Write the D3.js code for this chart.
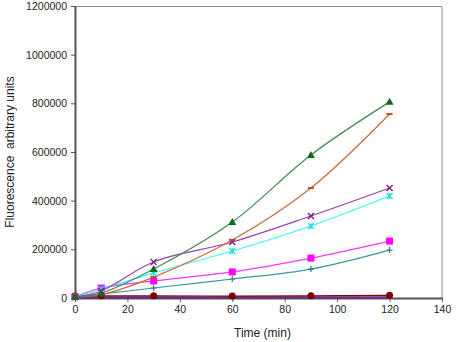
<!DOCTYPE html>
<html>
<head>
<meta charset="utf-8">
<script src="https://cdn.jsdelivr.net/npm/d3@7"></script>
<style>
  body { margin: 0; background: #fff; }
  svg text { font-family: "Liberation Sans", Arial, sans-serif; fill: #222; }
</style>
</head>
<body>
<div id="chart"></div>
<script>
const width = 457;
const height = 342;
const margin = { top: 6, right: 15, bottom: 44, left: 75 };

// time points (min)
const times = [0, 10, 30, 60, 90, 120];

// series values (fluorescence, arbitrary units)
const greenVals   = [5000, 20000, 119000, 312000, 588000, 806000];
const brownVals   = [5000, 14000, 86000, 238000, 452000, 756000];
const purpleVals  = [5000, 29000, 148000, 230000, 337000, 452000];
const cyanVals    = [5000, 36000, 103000, 193000, 296000, 419000];
const magentaVals = [5000, 41000, 70000, 107000, 164000, 234000];
const tealVals    = [5000, 16000, 41000, 78000, 119000, 197000];
const maroonVals  = [8000, 9000, 9000, 8000, 9000, 11000];
const navyVals    = [2000, 2000, 2000, 2000, 2000, 2000];

const xTicks = [0, 20, 40, 60, 80, 100, 120, 140];
const yTicks = [0, 200000, 400000, 600000, 800000, 1000000, 1200000];

const series = [
  { name: "navy", values: navyVals, line: "#6a2c8c", marker: "none", mcol: "#6a2c8c", lw: 2.5 },
  { name: "maroon", values: maroonVals, line: "#800000", marker: "circle", mcol: "#800000", lw: 1.2 },
  { name: "teal", values: tealVals, line: "#3a9a9a", marker: "plus", mcol: "#2a7f7f", lw: 1.2 },
  { name: "magenta", values: magentaVals, line: "#ff33ff", marker: "square", mcol: "#ff00ff", lw: 1.2 },
  { name: "cyan", values: cyanVals, line: "#33ffff", marker: "star", mcol: "#22dddd", lw: 1.2 },
  { name: "purple", values: purpleVals, line: "#9b3fae", marker: "cross", mcol: "#7a1f8a", lw: 1.2 },
  { name: "brown", values: brownVals, line: "#c8693a", marker: "dash", mcol: "#c0501e", lw: 1.2 },
  { name: "green", values: greenVals, line: "#3c8c50", marker: "triangle", mcol: "#0b6b1b", lw: 1.2 }
];

const svg = d3.select("#chart").append("svg")
  .attr("width", width)
  .attr("height", height);

const innerW = width - margin.left - margin.right;
const innerH = height - margin.top - margin.bottom;

const g = svg.append("g")
  .attr("transform", `translate(${margin.left}, ${margin.top})`);

const x = d3.scaleLinear().domain([0, 140]).range([0, innerW]);
const y = d3.scaleLinear().domain([0, 1200000]).range([innerH, 0]);

// frame (top and right)
g.append("path")
  .attr("d", `M0,0.5H${innerW}V${innerH}`)
  .attr("fill", "none")
  .attr("stroke", "#888")
  .attr("stroke-width", 1);

// axes
const xAxis = g.append("g")
  .attr("transform", `translate(0, ${innerH})`)
  .call(d3.axisBottom(x).tickValues(xTicks).tickSize(4).tickPadding(4).tickSizeOuter(0));
const yAxis = g.append("g")
  .call(d3.axisLeft(y).tickValues(yTicks).tickSize(4).tickPadding(4).tickSizeOuter(0).tickFormat(d3.format("d")));

[xAxis, yAxis].forEach(a => {
  a.select(".domain").attr("stroke", "#555").attr("stroke-width", 2);
  a.selectAll(".tick line").attr("stroke", "#555");
  a.selectAll(".tick text").attr("font-size", "10.5px").attr("fill", "#222")
    .attr("font-family", "'Liberation Sans', Arial, sans-serif");
});

// lines
const line = d3.line()
  .x((d, i) => x(times[i]))
  .y(d => y(d))
  .curve(d3.curveCatmullRom.alpha(0.5));

series.forEach(s => {
  g.append("path")
    .datum(s.values)
    .attr("fill", "none")
    .attr("stroke", s.line)
    .attr("stroke-width", s.lw)
    .attr("d", line);
});

// markers
series.forEach(s => {
  const m = g.append("g").attr("class", "markers-" + s.name);
  s.values.forEach((v, i) => {
    const cx = x(times[i]), cy = y(v);
    if (s.marker === "circle") {
      m.append("circle").attr("cx", cx).attr("cy", cy).attr("r", 3.5).attr("fill", s.mcol);
    } else if (s.marker === "square") {
      m.append("rect").attr("x", cx - 3.5).attr("y", cy - 3.5).attr("width", 7).attr("height", 7).attr("fill", s.mcol);
    } else if (s.marker === "triangle") {
      m.append("path").attr("d", `M${cx},${cy - 4}L${cx + 4},${cy + 3}L${cx - 4},${cy + 3}Z`).attr("fill", s.mcol);
    } else if (s.marker === "plus") {
      m.append("path").attr("d", `M${cx - 3},${cy}H${cx + 3}M${cx},${cy - 3}V${cy + 3}`)
        .attr("stroke", s.mcol).attr("stroke-width", 1.2);
    } else if (s.marker === "cross") {
      m.append("path").attr("d", `M${cx - 3},${cy - 3}L${cx + 3},${cy + 3}M${cx + 3},${cy - 3}L${cx - 3},${cy + 3}`)
        .attr("stroke", s.mcol).attr("stroke-width", 1.5);
    } else if (s.marker === "star") {
      m.append("path").attr("d", `M${cx - 3},${cy - 3}L${cx + 3},${cy + 3}M${cx + 3},${cy - 3}L${cx - 3},${cy + 3}M${cx},${cy - 3}V${cy + 3}`)
        .attr("stroke", s.mcol).attr("stroke-width", 1.2);
    } else if (s.marker === "dash") {
      m.append("path").attr("d", `M${cx - 3},${cy}H${cx + 3}`)
        .attr("stroke", s.mcol).attr("stroke-width", 2);
    }
  });
});

// axis titles
svg.append("text")
  .attr("x", margin.left + innerW / 2 + 4)
  .attr("y", 337)
  .attr("text-anchor", "middle")
  .attr("font-size", "12px")
  .text("Time (min)");

svg.append("text")
  .attr("transform", `translate(14, ${margin.top + innerH / 2}) rotate(-90)`)
  .attr("text-anchor", "middle")
  .attr("font-size", "12px")
  .attr("xml:space", "preserve")
  .style("white-space", "pre")
  .text("Fluorescence  arbitrary units");
</script>
</body>
</html>
